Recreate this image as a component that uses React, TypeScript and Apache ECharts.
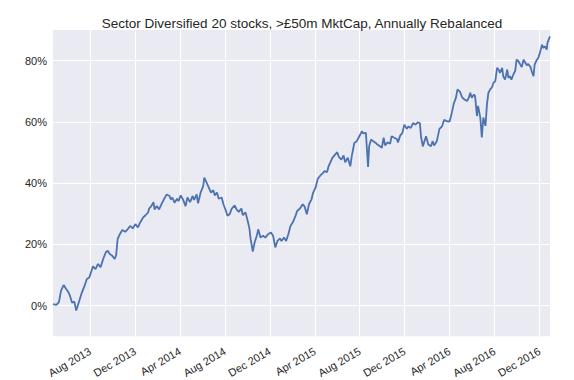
import React, { useEffect, useRef } from "react";
import * as echarts from "echarts";

const chartTitle = "Sector Diversified 20 stocks, >£50m MktCap, Annually Rebalanced";

const tickLabels = [
  "Aug 2013", "Dec 2013", "Apr 2014", "Aug 2014", "Dec 2014", "Apr 2015",
  "Aug 2015", "Dec 2015", "Apr 2016", "Aug 2016", "Dec 2016",
];

const yTicks = [0, 20, 40, 60, 80];

const dates2013 = [
  "2013-04-22", "2013-05-01", "2013-05-08", "2013-05-14", "2013-05-21", "2013-05-28",
  "2013-06-03", "2013-06-07", "2013-06-13", "2013-06-19", "2013-06-24", "2013-07-01",
  "2013-07-08", "2013-07-17", "2013-07-23", "2013-07-30", "2013-08-05", "2013-08-09",
  "2013-08-16", "2013-08-23", "2013-08-30", "2013-09-06", "2013-09-13", "2013-09-18",
  "2013-09-24", "2013-09-30", "2013-10-07", "2013-10-11", "2013-10-15", "2013-10-21",
  "2013-10-28", "2013-11-05", "2013-11-11", "2013-11-18", "2013-11-25", "2013-12-02",
  "2013-12-09", "2013-12-16", "2013-12-23", "2013-12-30",
];
const values2013 = [
  0.5, 0.2, 1.1, 4.9, 6.7, 5.4,
  4.4, 3.3, 0.9, 1.3, -1.6, 1.1,
  3.8, 6.5, 8.7, 9.2, 11.4, 12.8,
  11.9, 13.6, 12.5, 15.2, 17.4, 17.9,
  16.8, 16.3, 15.2, 16.5, 21.7, 23.3,
  24.7, 24.1, 24.9, 26.0, 25.2, 26.6,
  25.5, 27.3, 28.7, 29.5,
];

const dates2014 = [
  "2014-01-06", "2014-01-09", "2014-01-15", "2014-01-21", "2014-01-24", "2014-01-30",
  "2014-02-05", "2014-02-11", "2014-02-17", "2014-02-24", "2014-03-03", "2014-03-07",
  "2014-03-11", "2014-03-17", "2014-03-24", "2014-03-28", "2014-04-03", "2014-04-09",
  "2014-04-16", "2014-04-21", "2014-04-28", "2014-05-05", "2014-05-09", "2014-05-16",
  "2014-05-20", "2014-05-27", "2014-06-03", "2014-06-06", "2014-06-13", "2014-06-18",
  "2014-06-24", "2014-06-30", "2014-07-04", "2014-07-10", "2014-07-15", "2014-07-23",
  "2014-07-28", "2014-08-04", "2014-08-08", "2014-08-14", "2014-08-20", "2014-08-28",
  "2014-09-02", "2014-09-08", "2014-09-15", "2014-09-19", "2014-09-26", "2014-10-03",
  "2014-10-07", "2014-10-10", "2014-10-16", "2014-10-21", "2014-10-27", "2014-10-31",
  "2014-11-06", "2014-11-13", "2014-11-19", "2014-11-26", "2014-12-04", "2014-12-10",
  "2014-12-16", "2014-12-22", "2014-12-29",
];
const values2014 = [
  30.4, 31.7, 32.5, 33.8, 31.4, 32.5,
  31.4, 33.1, 34.7, 36.3, 35.8, 34.7,
  35.3, 33.6, 34.9, 34.1, 36.0, 34.7,
  32.5, 35.3, 33.8, 35.8, 34.5, 36.3,
  33.4, 36.9, 39.0, 41.8, 39.9, 38.5,
  36.9, 37.7, 36.0, 36.9, 34.9, 35.3,
  33.1, 30.9, 29.3, 29.8, 31.7, 32.7,
  31.4, 30.6, 31.7, 29.5, 30.4, 27.1,
  24.9, 21.7, 17.6, 20.6, 22.8, 24.9,
  22.2, 22.8, 22.2, 23.3, 23.9, 22.8,
  19.0, 21.1, 21.9,
];

const dates2015 = [
  "2015-01-02", "2015-01-09", "2015-01-15", "2015-01-21", "2015-01-27", "2015-02-02",
  "2015-02-09", "2015-02-13", "2015-02-20", "2015-02-27", "2015-03-04", "2015-03-10",
  "2015-03-16", "2015-03-23", "2015-03-27", "2015-04-03", "2015-04-09", "2015-04-16",
  "2015-04-22", "2015-04-27", "2015-05-04", "2015-05-08", "2015-05-13", "2015-05-19",
  "2015-05-26", "2015-06-01", "2015-06-05", "2015-06-12", "2015-06-18", "2015-06-22",
  "2015-06-29", "2015-07-06", "2015-07-10", "2015-07-17", "2015-07-24", "2015-07-31",
  "2015-08-07", "2015-08-11", "2015-08-18", "2015-08-24", "2015-08-27", "2015-09-01",
  "2015-09-07", "2015-09-14", "2015-09-18", "2015-09-25", "2015-09-30", "2015-10-05",
  "2015-10-09", "2015-10-16", "2015-10-23", "2015-10-27", "2015-11-03", "2015-11-10",
  "2015-11-13", "2015-11-19", "2015-11-25", "2015-11-30", "2015-12-07", "2015-12-11",
  "2015-12-18", "2015-12-24", "2015-12-31",
];
const values2015 = [
  21.1, 22.2, 21.1, 23.3, 26.0, 27.1,
  29.3, 30.9, 31.7, 33.1, 32.3, 29.8,
  33.1, 34.7, 36.7, 38.5, 41.4, 42.5,
  43.2, 43.9, 43.6, 45.5, 46.8, 48.3,
  49.3, 50.1, 48.6, 47.7, 49.0, 46.8,
  48.3, 45.5, 48.8, 53.1, 53.7, 55.3,
  56.9, 56.2, 56.4, 45.3, 52.0, 54.2,
  53.7, 53.1, 52.6, 52.0, 51.5, 54.8,
  52.3, 53.3, 52.9, 55.3, 54.8, 54.4,
  53.3, 55.5, 56.4, 59.1, 57.7, 58.5,
  58.0, 59.6, 59.1,
];

const dates2016 = [
  "2016-01-06", "2016-01-12", "2016-01-15", "2016-01-20", "2016-01-26", "2016-01-29",
  "2016-02-04", "2016-02-11", "2016-02-15", "2016-02-19", "2016-02-26", "2016-03-04",
  "2016-03-11", "2016-03-17", "2016-03-24", "2016-04-01", "2016-04-07", "2016-04-12",
  "2016-04-18", "2016-04-22", "2016-04-29", "2016-05-04", "2016-05-11", "2016-05-18",
  "2016-05-23", "2016-05-27", "2016-05-31", "2016-06-06", "2016-06-09", "2016-06-14",
  "2016-06-17", "2016-06-23", "2016-06-27", "2016-07-01", "2016-07-07", "2016-07-11",
  "2016-07-15", "2016-07-20", "2016-07-25", "2016-07-29", "2016-08-03", "2016-08-08",
  "2016-08-12", "2016-08-16", "2016-08-22", "2016-08-25", "2016-08-30", "2016-09-05",
  "2016-09-08", "2016-09-12", "2016-09-16", "2016-09-21", "2016-09-26", "2016-09-30",
  "2016-10-05", "2016-10-10", "2016-10-14", "2016-10-19", "2016-10-24", "2016-10-28",
  "2016-11-01", "2016-11-07", "2016-11-10", "2016-11-15", "2016-11-18", "2016-11-24",
  "2016-11-28", "2016-12-02", "2016-12-08", "2016-12-12", "2016-12-16", "2016-12-21",
  "2016-12-23", "2016-12-30",
];
const values2016 = [
  59.8, 59.6, 55.3, 52.0, 54.2, 55.3,
  52.6, 52.0, 53.7, 52.3, 53.7, 57.7,
  58.5, 60.7, 60.2, 60.1, 63.0, 65.9,
  67.9, 70.6, 69.8, 68.1, 67.3, 66.8,
  67.9, 69.5, 67.9, 68.9, 68.4, 61.9,
  65.2, 61.4, 54.9, 61.4, 58.7, 65.7,
  69.5, 70.6, 71.3, 72.7, 73.3, 77.6,
  77.1, 76.0, 77.6, 74.9, 73.8, 77.1,
  74.4, 74.9, 73.8, 75.4, 76.6, 80.3,
  79.8, 78.7, 77.9, 80.3, 79.3, 78.5,
  78.9, 77.9, 76.6, 74.9, 78.7, 80.3,
  80.9, 82.5, 85.2, 84.1, 84.7, 83.6,
  85.8, 87.9,
];

const dates = [...dates2013, ...dates2014, ...dates2015, ...dates2016];
const values = [...values2013, ...values2014, ...values2015, ...values2016];

// Axis unit: one 4-month period, 0 = 1 Aug 2013
function toPeriod(s: string): number {
  const [y, m, d] = s.split("-").map(Number);
  const dim = new Date(Date.UTC(y, m, 0)).getUTCDate();
  const months = (y - 2013) * 12 + (m - 1) - 7 + (d - 1) / dim;
  return months / 4;
}

const FONT = "'Liberation Sans', Arial, Helvetica, sans-serif";
const TEXT = "#262626";

export default function App() {
  const ref = useRef<HTMLDivElement>(null);

  useEffect(() => {
    if (!ref.current) return;
    const chart = echarts.init(ref.current, undefined, { renderer: "svg" });
    const data = dates.map((d, i) => [toPeriod(d), values[i]]);
    const xMin = toPeriod(dates[0]);
    const xMax = toPeriod(dates[dates.length - 1]);

    chart.setOption({
      animation: false,
      backgroundColor: "#ffffff",
      graphic: [
        {
          type: "text",
          x: 302,
          y: 23.5,
          silent: true,
          style: {
            text: chartTitle,
            fontSize: 13.5,
            fontFamily: FONT,
            fill: TEXT,
            align: "center",
            verticalAlign: "middle",
          },
        },
      ],
      grid: {
        left: 53,
        right: 24,
        top: 30,
        bottom: 42,
        show: true,
        backgroundColor: "#EAEAF2",
        borderWidth: 0,
      },
      xAxis: {
        type: "value",
        min: xMin,
        max: xMax,
        splitNumber: 11,
        minInterval: 1,
        maxInterval: 1,
        axisLine: { show: false },
        axisTick: { show: false },
        axisLabel: {
          rotate: 30,
          margin: 14,
          fontSize: 11,
          fontFamily: FONT,
          color: TEXT,
          showMinLabel: false,
          showMaxLabel: false,
          formatter: (v: number) => {
            const r = Math.round(v);
            if (Math.abs(v - r) > 1e-6 || r < 0 || r >= tickLabels.length) return "";
            return tickLabels[r];
          },
        },
        splitLine: {
          show: true,
          showMinLine: false,
          showMaxLine: false,
          lineStyle: { color: "#ffffff", width: 1 },
        },
      },
      yAxis: {
        type: "value",
        min: -10,
        max: 90,
        splitNumber: 5,
        minInterval: 20,
        maxInterval: 20,
        axisLine: { show: false },
        axisTick: { show: false },
        axisLabel: {
          margin: 6,
          fontSize: 11,
          fontFamily: FONT,
          color: TEXT,
          showMinLabel: false,
          showMaxLabel: false,
          formatter: (v: number) => (yTicks.includes(Math.round(v)) && Math.abs(v - Math.round(v)) < 1e-6 ? `${Math.round(v)}%` : ""),
        },
        splitLine: {
          show: true,
          showMinLine: false,
          showMaxLine: false,
          lineStyle: { color: "#ffffff", width: 1 },
        },
      },
      series: [
        {
          type: "line",
          data,
          showSymbol: false,
          symbol: "none",
          silent: true,
          lineStyle: { color: "#4C72B0", width: 1.8 },
        },
      ],
    });
    return () => chart.dispose();
  }, []);

  return (
    <div
      ref={ref}
      style={{ position: "fixed", left: 0, top: 0, width: 574, height: 380 }}
    />
  );
}
